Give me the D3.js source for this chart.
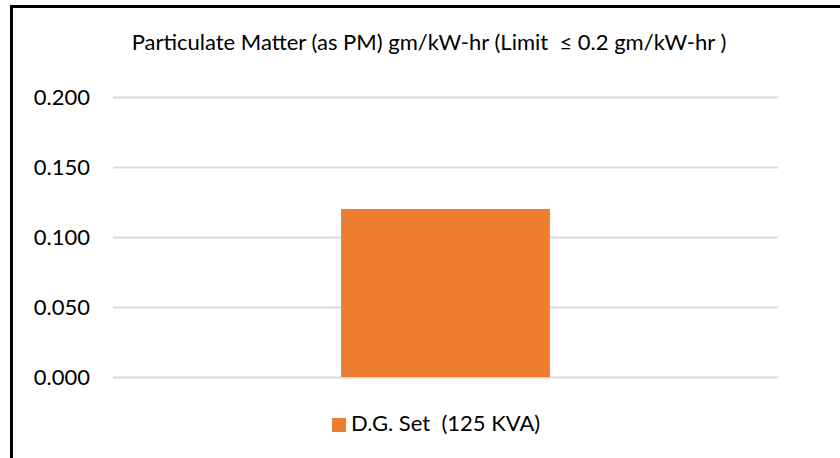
<!DOCTYPE html>
<html><head><meta charset="utf-8">
<script src="https://cdn.jsdelivr.net/npm/d3@7"></script>
<style>html,body{margin:0;padding:0;background:#fff;}svg{display:block;} text{white-space:pre;}</style>
</head><body>
<svg id="c" width="840" height="458"></svg>
<script>
const categories = ["D.G. Set  (125 KVA)"];
const values = [0.120];
const yTicks = [0.000, 0.050, 0.100, 0.150, 0.200];
const title = "Particulate Matter (as PM) gm/kW-hr (Limit  \u2264 0.2 gm/kW-hr )";
const seriesName = "D.G. Set  (125 KVA)";

const svg = d3.select("#c");
const font = "Lato, 'Open Sans', sans-serif";
const m = {left:113, right:778, top:97, bottom:377};

svg.append("rect").attr("x",11.5).attr("y",6.5).attr("width",900).attr("height",600)
  .attr("fill","#fff").attr("stroke","#000").attr("stroke-width",3);

const y = d3.scaleLinear().domain([0,0.2]).range([m.bottom,m.top]);
const x = d3.scaleBand().domain(categories).range([m.left,m.right]).padding(0.522);

const yAxis = d3.axisLeft(y).tickValues(yTicks).tickFormat(d3.format(".3f"))
  .tickSize(-(m.right-m.left)).tickPadding(23);
const g = svg.append("g").attr("transform",`translate(${m.left},0)`).call(yAxis);
g.select(".domain").remove();
g.selectAll(".tick line").attr("stroke","#d9d9d9").attr("stroke-width",2);
g.selectAll(".tick text").attr("fill","#000").style("font-family",font).style("font-size","22px");

svg.selectAll(".bar").data(values).enter().append("rect")
  .attr("x",(d,i)=>x(categories[i])).attr("width",x.bandwidth())
  .attr("y",d=>y(d)).attr("height",d=>y(0)-y(d)).attr("fill","#ED7D31");

svg.append("text").attr("x",429).attr("y",50).attr("text-anchor","middle")
  .style("font-family",font).style("font-size","22px").attr("fill","#000").text(title);

const lg = svg.append("g");
lg.append("rect").attr("x",332).attr("y",418).attr("width",14).attr("height",14).attr("fill","#ED7D31");
lg.append("text").attr("x",351).attr("y",431).style("font-family",font).style("font-size","22px")
  .attr("fill","#000").text(seriesName);
</script>
</body></html>
